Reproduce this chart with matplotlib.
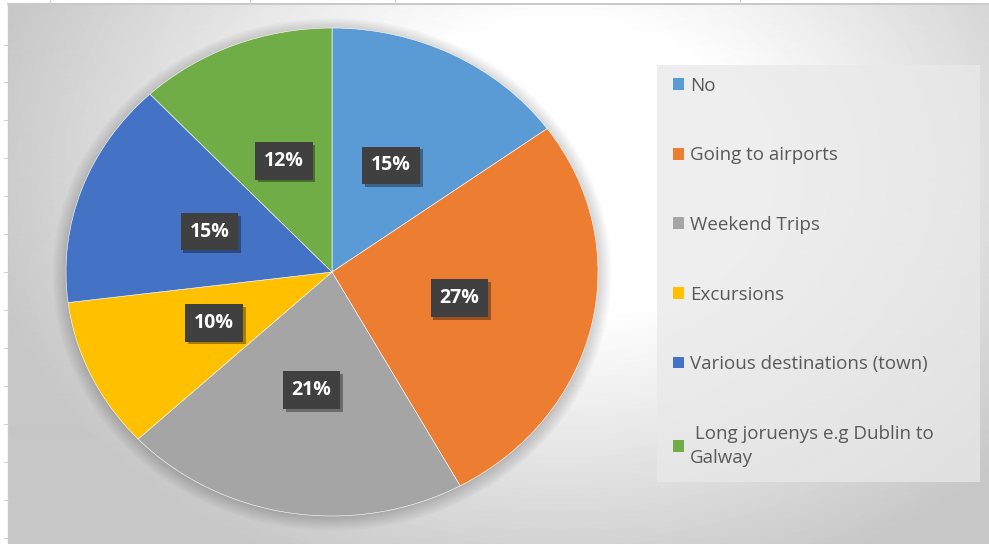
import numpy as np
import matplotlib
matplotlib.use("Agg")
import matplotlib.pyplot as plt
from matplotlib.patches import Ellipse, Rectangle
import matplotlib.patheffects as pe

# Data
categories = ["No", "Going to airports", "Weekend Trips", "Excursions",
              "Various destinations (town)", " Long joruenys e.g Dublin to\nGalway"]
shares = [15, 27, 21, 10, 15, 12]
colors = ["#5B9BD5", "#ED7D31", "#A5A5A5", "#FFC000", "#4472C4", "#70AD47"]

W, H = 989, 544
fig = plt.figure(figsize=(W/100, H/100), dpi=100)
fig.patch.set_facecolor("white")

# Background gradient (chart area)
bg = fig.add_axes([8/W, 0, 1 - 8/W, 1 - 5/H], zorder=-10)
yy, xx = np.mgrid[0:540, 0:981]
xx = xx + 8
yy = yy + 5
r = np.sqrt(((xx - 560)/560.0)**2 + ((yy - 170)/420.0)**2)
g = np.clip((r - 0.35)/0.7, 0, 1)
shade = 1.0 - g*(1.0 - 0.78)
bg.imshow(shade, cmap="gray", vmin=0, vmax=1, aspect="auto", interpolation="bilinear")
bg.axis("off")

# Top and left border lines of the sheet
fig.add_artist(plt.Line2D([8/W, 1], [1 - 4/H, 1 - 4/H], color="#bfbfbf", lw=1.2))
fig.add_artist(plt.Line2D([8/W, 8/W], [0, 1 - 4/H], color="#c8c8c8", lw=1.0))
for x in [50, 250, 395, 740]:
    fig.add_artist(plt.Line2D([x/W, x/W], [1 - 4/H, 1], color="#d0d0d0", lw=0.8))
for y in [45, 82, 120, 158, 196, 234, 272, 310, 348, 386, 424, 462, 500, 538]:
    fig.add_artist(plt.Line2D([4/W, 8/W], [1 - y/H, 1 - y/H], color="#d0d0d0", lw=0.8))

# Pie
cx, cy, rx, ry = 332, 272, 266, 244
ax = fig.add_axes([(cx - rx)/W, 1 - (cy + ry)/H, 2*rx/W, 2*ry/H])
ax.axis("off")

# soft shadow around pie
for k in np.linspace(1.05, 1.0, 8):
    ax.add_patch(Ellipse((0.0, -0.01), 2*k, 2*k, color="black", alpha=0.025,
                         lw=0, zorder=0, clip_on=False))

wedges, texts, autotexts = ax.pie(
    shares, colors=colors, startangle=90, counterclock=False,
    autopct=lambda p: f"{p:.0f}%", pctdistance=0.49, radius=1,
    wedgeprops=dict(edgecolor="white", linewidth=0.4),
    textprops=dict(color="white", fontsize=14, fontweight="bold",
                   family=["Open Sans", "DejaVu Sans"]),
    frame=False)
ax.set_xlim(-1, 1)
ax.set_ylim(-1, 1)
ax.set_aspect("auto")

for t in autotexts:
    t.set_bbox(dict(boxstyle="square,pad=0.45", fc="#404040", ec="none"))
    t.get_bbox_patch().set_path_effects([
        pe.SimplePatchShadow(offset=(2, -2), shadow_rgbFace="black", alpha=0.35),
        pe.Normal()])

# Legend
fig.add_artist(Rectangle((657/W, 1 - 482/H), (980 - 657)/W, (482 - 65)/H,
                         transform=fig.transFigure, fc="#e9e9e9", ec="none", alpha=0.75))
leg = fig.legend(wedges, categories, loc="upper left",
                 bbox_to_anchor=(656/W, 1 - 60/H), frameon=False,
                 prop=dict(family=["Open Sans", "DejaVu Sans"], size=13.5),
                 handlelength=0.6, handleheight=0.6, handletextpad=0.32,
                 labelspacing=2.75, labelcolor="#595959")
for h in leg.legend_handles:
    h.set_edgecolor("none")
leg.get_texts()[-1].set_linespacing(1.45)

fig.savefig("out.png", dpi=100)
